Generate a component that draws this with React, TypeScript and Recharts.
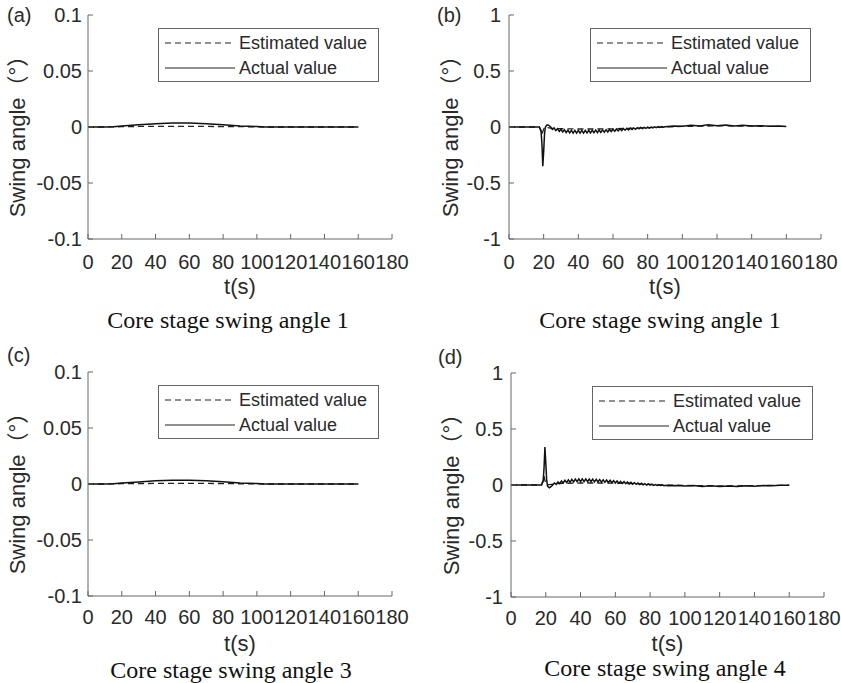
import React from "react";
import { LineChart, Line, XAxis, YAxis, Legend } from "recharts";

// time axis (s)
const xTicks = [0, 20, 40, 60, 80, 100, 120, 140, 160, 180];
const smallTicks = [-0.1, -0.05, 0, 0.05, 0.1];
const bigTicks = [-1, -0.5, 0, 0.5, 1];

// (a) core stage swing angle 1, small scale
const aTime = [0, 10, 15, 20, 30, 40, 50, 60, 70, 80, 90, 100, 105, 110, 120, 140, 160];
const aActual = [0, 0, 0.0003, 0.001, 0.002, 0.003, 0.0035, 0.0035, 0.003, 0.002, 0.001, 0.0004, 0.0001, 0, 0, 0, 0];
const aEstimated = [0, 0, 0.0001, 0.0003, 0.0005, 0.0006, 0.0006, 0.0006, 0.0005, 0.0004, 0.0003, 0.0001, 0, 0, 0, 0, 0];

// (c) core stage swing angle 3
const cTime = [0, 10, 15, 20, 30, 40, 50, 60, 70, 80, 90, 100, 105, 110, 120, 140, 160];
const cActual = [0, 0, 0.0003, 0.0009, 0.0018, 0.0028, 0.0033, 0.0034, 0.003, 0.002, 0.001, 0.0004, 0.0001, 0, 0, 0, 0];
const cEstimated = [0, 0, 0.0001, 0.0003, 0.0004, 0.0005, 0.0006, 0.0006, 0.0005, 0.0004, 0.0002, 0.0001, 0, 0, 0, 0, 0];

// (b) / (d) actual value samples
const bdActTime = [
  0, 17.5, 18.5, 19, 19.5, 20, 20.5, 21, 22, 23,
  24, 25, 26, 27, 28, 29, 30, 31, 32, 33, 34, 35, 36, 37, 38, 39,
  40, 41, 42, 43, 44, 45, 46, 47, 48, 49, 50, 51, 52, 53, 54, 55, 56, 57, 58, 59,
  60, 61, 62, 63, 64, 65, 66, 67, 68, 69, 70, 71, 72, 73, 74, 75, 76, 77, 78, 79,
  80, 81, 82, 83, 84, 85, 86, 87, 88, 89, 90,
  95, 100, 105, 110, 115, 120, 125, 130, 135, 140, 145, 150, 155, 160,
];
const bActual = [
  0, 0, -0.04, -0.15, -0.35, -0.22, -0.06, 0, 0.02, 0.015,
  0, -0.022, -0.008, -0.032, -0.015, -0.04, -0.02, -0.045, -0.025, -0.05, -0.028, -0.052, -0.03, -0.054, -0.03, -0.054,
  -0.03, -0.054, -0.03, -0.054, -0.03, -0.053, -0.03, -0.052, -0.029, -0.051, -0.028, -0.05, -0.027, -0.048, -0.026, -0.046, -0.024, -0.044, -0.022, -0.041,
  -0.02, -0.038, -0.018, -0.035, -0.016, -0.032, -0.014, -0.029, -0.012, -0.026, -0.01, -0.023, -0.008, -0.02, -0.006, -0.017, -0.004, -0.014, -0.003, -0.012,
  -0.002, -0.01, 0, -0.008, 0.002, -0.005, 0.003, -0.003, 0.004, -0.001, 0.003,
  0.01, 0.006, 0.016, 0.009, 0.019, 0.011, 0.017, 0.01, 0.015, 0.008, 0.012, 0.006, 0.009, 0.005,
];
const dActual = [
  0, 0, 0.04, 0.15, 0.34, 0.2, 0.05, -0.01, -0.025, -0.015,
  0, 0.018, 0.006, 0.028, 0.012, 0.036, 0.018, 0.042, 0.022, 0.047, 0.026, 0.05, 0.028, 0.052, 0.03, 0.054,
  0.03, 0.054, 0.03, 0.054, 0.03, 0.053, 0.029, 0.052, 0.028, 0.05, 0.027, 0.048, 0.026, 0.046, 0.024, 0.044, 0.022, 0.042, 0.02, 0.039,
  0.018, 0.036, 0.016, 0.033, 0.014, 0.03, 0.012, 0.027, 0.01, 0.024, 0.008, 0.021, 0.006, 0.018, 0.004, 0.015, 0.002, 0.012, 0, 0.009,
  -0.002, 0.006, -0.003, 0.004, -0.004, 0.002, -0.005, 0, -0.006, -0.002, -0.006,
  -0.004, -0.009, -0.005, -0.013, -0.007, -0.014, -0.008, -0.013, -0.007, -0.011, -0.005, -0.007, -0.003, -0.002,
];

// (b) / (d) estimated value samples
const bdEstTime = [0, 17.5, 18.5, 19, 19.5, 20.5, 22, 25, 30, 40, 50, 60, 70, 80, 90, 100, 110, 120, 130, 140, 150, 160];
const bEstimated = [0, 0, -0.03, -0.07, -0.04, 0, -0.005, -0.012, -0.015, -0.018, -0.018, -0.016, -0.012, -0.006, 0, 0.005, 0.008, 0.01, 0.009, 0.008, 0.006, 0.005];
const dEstimated = [0, 0, 0.03, 0.08, 0.04, 0, 0.003, 0.01, 0.015, 0.018, 0.018, 0.016, 0.012, 0.006, 0, -0.004, -0.006, -0.008, -0.007, -0.006, -0.004, -0.002];

const rows = (t: number[], v: number[]) => t.map((x, i) => ({ t: x, v: v[i] }));

const SANS = "'Liberation Sans', Arial, 'Noto Sans CJK SC', sans-serif";
const SERIF = "'Liberation Serif', 'Times New Roman', serif";
const BOX = "#666";
const TEXT = "#2a2a2a";

const LegendBox = (props: any) => {
  // dashed (estimated) entry first, as in the figure
  const items = [...(props.payload || [])].sort(
    (a: any, b: any) => (b.payload?.strokeDasharray ? 1 : 0) - (a.payload?.strokeDasharray ? 1 : 0)
  );
  return (
    <svg width={221} height={54} style={{ display: "block" }}>
      <rect x={0.5} y={0.5} width={220} height={53} fill="#fff" stroke={BOX} />
      {items.map((it: any, i: number) => {
        const y = 15 + i * 25;
        const dashed = it.payload && it.payload.strokeDasharray;
        return (
          <g key={i}>
            <line x1={7} x2={77} y1={y} y2={y} stroke="#222" strokeWidth={1.2} strokeDasharray={dashed || undefined} />
            <text x={81} y={y} dominantBaseline="central" fontSize={18} fontFamily={SANS} fill={TEXT}>
              {it.value}
            </text>
          </g>
        );
      })}
    </svg>
  );
};

type PanelProps = {
  left: number;
  top: number;
  width: number;
  height: number;
  plot: { l: number; r: number; t: number; b: number };
  yTicks: number[];
  est: { t: number; v: number }[];
  act: { t: number; v: number }[];
  yTickGap: number;
  xTickGap: number;
  yLabelX: number;
  xLabelY: number;
  legendX: number;
  legendY: number;
};

const Panel = (p: PanelProps) => {
  const yAxisW = 60;
  const xAxisH = 40;
  const margin = {
    top: p.plot.t,
    right: p.width - p.plot.r,
    left: p.plot.l - yAxisW,
    bottom: p.height - p.plot.b - xAxisH,
  };
  const domain = [p.yTicks[0], p.yTicks[p.yTicks.length - 1]];
  const cx = (p.plot.l + p.plot.r) / 2;
  const cy = (p.plot.t + p.plot.b) / 2 + 4;
  const tickFont = { fontSize: 20, fontFamily: SANS, fill: TEXT };
  return (
    <div style={{ position: "absolute", left: p.left, top: p.top }}>
      <LineChart width={p.width} height={p.height} margin={margin}>
        <XAxis
          type="number"
          dataKey="t"
          domain={[0, 180]}
          ticks={xTicks}
          interval={0}
          height={xAxisH}
          stroke={BOX}
          tickSize={-5}
          tickMargin={p.xTickGap}
          tick={tickFont}
          label={{
            content: () => (
              <text x={cx} y={p.xLabelY} textAnchor="middle" fontSize={22} fontFamily={SANS} fill={TEXT}>
                t(s)
              </text>
            ),
          }}
        />
        <XAxis
          xAxisId="top"
          orientation="top"
          type="number"
          dataKey="t"
          domain={[0, 180]}
          ticks={xTicks}
          interval={0}
          height={0}
          stroke={BOX}
          tickSize={-5}
          tick={() => <g />}
        />
        <YAxis
          type="number"
          domain={domain}
          ticks={p.yTicks}
          interval={0}
          width={yAxisW}
          stroke={BOX}
          tickSize={-5}
          tickMargin={p.yTickGap}
          tick={tickFont}
          label={{
            content: () => (
              <text
                x={p.yLabelX}
                y={cy}
                transform={`rotate(-90 ${p.yLabelX} ${cy})`}
                textAnchor="middle"
                dominantBaseline="central"
                fontSize={22}
                fontFamily={SANS}
                fill={TEXT}
              >
                Swing angle（°）
              </text>
            ),
          }}
        />
        <YAxis
          yAxisId="right"
          orientation="right"
          type="number"
          domain={domain}
          ticks={p.yTicks}
          interval={0}
          width={0}
          stroke={BOX}
          tickSize={-5}
          tick={() => <g />}
        />
        <Legend
          layout="horizontal"
          verticalAlign="middle"
          align="center"
          content={LegendBox}
          wrapperStyle={{ left: p.legendX, top: p.legendY, width: 221, height: 54 }}
        />
        <Line
          data={p.est}
          dataKey="v"
          name="Estimated value"
          type="linear"
          stroke="#222"
          strokeWidth={1.3}
          strokeDasharray="6 4"
          dot={false}
          activeDot={false}
          isAnimationActive={false}
        />
        <Line
          data={p.act}
          dataKey="v"
          name="Actual value"
          type="linear"
          stroke="#111"
          strokeWidth={1.5}
          dot={false}
          activeDot={false}
          isAnimationActive={false}
        />
      </LineChart>
    </div>
  );
};

const tag = (txt: string, left: number, top: number) => (
  <div style={{ position: "absolute", left, top, fontFamily: SANS, fontSize: 20, lineHeight: "20px", color: TEXT }}>
    {txt}
  </div>
);

const caption = (txt: string, center: number, top: number) => (
  <div
    style={{
      position: "absolute",
      left: center - 150,
      width: 300,
      top,
      textAlign: "center",
      fontFamily: SERIF,
      fontSize: 24,
      lineHeight: "24px",
      color: "#111",
    }}
  >
    {txt}
  </div>
);

export default function App() {
  return (
    <div style={{ position: "absolute", left: 0, top: 0, width: 841, height: 683, background: "#fff", overflow: "hidden" }}>
      <Panel
        left={0}
        top={0}
        width={420}
        height={340}
        plot={{ l: 88, r: 392, t: 15, b: 239 }}
        yTicks={smallTicks}
        est={rows(aTime, aEstimated)}
        act={rows(aTime, aActual)}
        yTickGap={11}
        xTickGap={21}
        yLabelX={17}
        xLabelY={294}
        legendX={158}
        legendY={28}
      />
      <Panel
        left={420}
        top={0}
        width={421}
        height={340}
        plot={{ l: 89, r: 401, t: 15, b: 239 }}
        yTicks={bigTicks}
        est={rows(bdEstTime, bEstimated)}
        act={rows(bdActTime, bActual)}
        yTickGap={13}
        xTickGap={21}
        yLabelX={30}
        xLabelY={294}
        legendX={170}
        legendY={28}
      />
      <Panel
        left={0}
        top={340}
        width={420}
        height={343}
        plot={{ l: 88, r: 392, t: 32, b: 256 }}
        yTicks={smallTicks}
        est={rows(cTime, cEstimated)}
        act={rows(cTime, cActual)}
        yTickGap={11}
        xTickGap={19}
        yLabelX={17}
        xLabelY={311}
        legendX={158}
        legendY={45}
      />
      <Panel
        left={420}
        top={340}
        width={421}
        height={343}
        plot={{ l: 91, r: 404, t: 33, b: 257 }}
        yTicks={bigTicks}
        est={rows(bdEstTime, dEstimated)}
        act={rows(bdActTime, dActual)}
        yTickGap={13}
        xTickGap={19}
        yLabelX={31}
        xLabelY={311}
        legendX={172}
        legendY={46}
      />
      {tag("(a)", 7, 5)}
      {tag("(b)", 437, 5)}
      {tag("(c)", 7, 345)}
      {tag("(d)", 438, 347)}
      {caption("Core stage swing angle 1", 228, 308)}
      {caption("Core stage swing angle 1", 660, 308)}
      {caption("Core stage swing angle 3", 231, 658)}
      {caption("Core stage swing angle 4", 665, 656)}
    </div>
  );
}
